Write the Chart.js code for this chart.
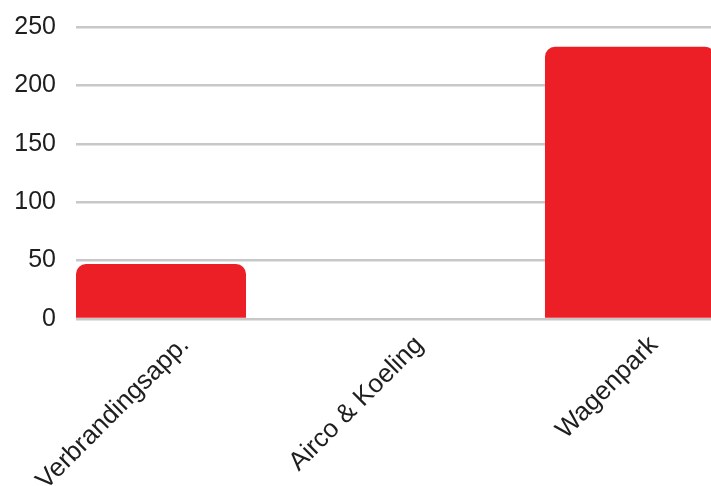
<!DOCTYPE html>
<html>
<head>
<meta charset="utf-8">
<script src="https://cdn.jsdelivr.net/npm/chart.js@4"></script>
<style>
  html, body { margin: 0; padding: 0; background: #fff; }
  #wrap { width: 711px; height: 486px; }
</style>
</head>
<body>
<div id="wrap"><canvas id="grafiek"></canvas></div>
<script>
const categorieen = ['Verbrandingsapp.', 'Airco & Koeling', 'Wagenpark'];
const waarden = [47, 0, 233];
const yTicks = [0, 50, 100, 150, 200, 250];

const ctx = document.getElementById('grafiek').getContext('2d');

new Chart(ctx, {
  type: 'bar',
  data: {
    datasets: [{
      data: waarden.map((v, i) => ({ x: i, y: v })),
      backgroundColor: '#EC1F27',
      borderRadius: 10,
      categoryPercentage: 1,
      barPercentage: 0.725
    }]
  },
  options: {
    responsive: true,
    maintainAspectRatio: false,
    animation: false,
    layout: { padding: { top: 27, right: 0, left: 0, bottom: 0 } },
    plugins: {
      legend: { display: false },
      tooltip: { enabled: true }
    },
    scales: {
      x: {
        type: 'linear',
        offset: false,
        min: -0.3625,
        max: 2.3455,
        grid: { display: false, offset: false },
        border: { display: false },
        afterBuildTicks: axis => {
          axis.ticks = categorieen.map((c, i) => ({ value: i }));
        },
        afterFit: axis => {
          axis.height = 167;
          axis.paddingLeft = 0;
          axis.paddingRight = 0;
        },
        ticks: {
          callback: v => categorieen[v],
          minRotation: 45,
          maxRotation: 45,
          labelOffset: 24,
          padding: 3,
          color: '#1e1e1e',
          font: { family: 'Liberation Sans', size: 26 }
        }
      },
      y: {
        min: 0,
        max: 250,
        afterBuildTicks: axis => {
          axis.ticks = yTicks.map(v => ({ value: v }));
        },
        afterFit: axis => {
          axis.width = 76;
          axis.paddingTop = 0;
          axis.paddingBottom = 0;
        },
        grid: {
          color: '#c8c8c8',
          lineWidth: 2.5,
          drawTicks: false
        },
        border: { display: false },
        ticks: {
          padding: 20,
          color: '#1e1e1e',
          font: { family: 'Liberation Sans', size: 25 }
        }
      }
    }
  }
});
</script>
</body>
</html>
